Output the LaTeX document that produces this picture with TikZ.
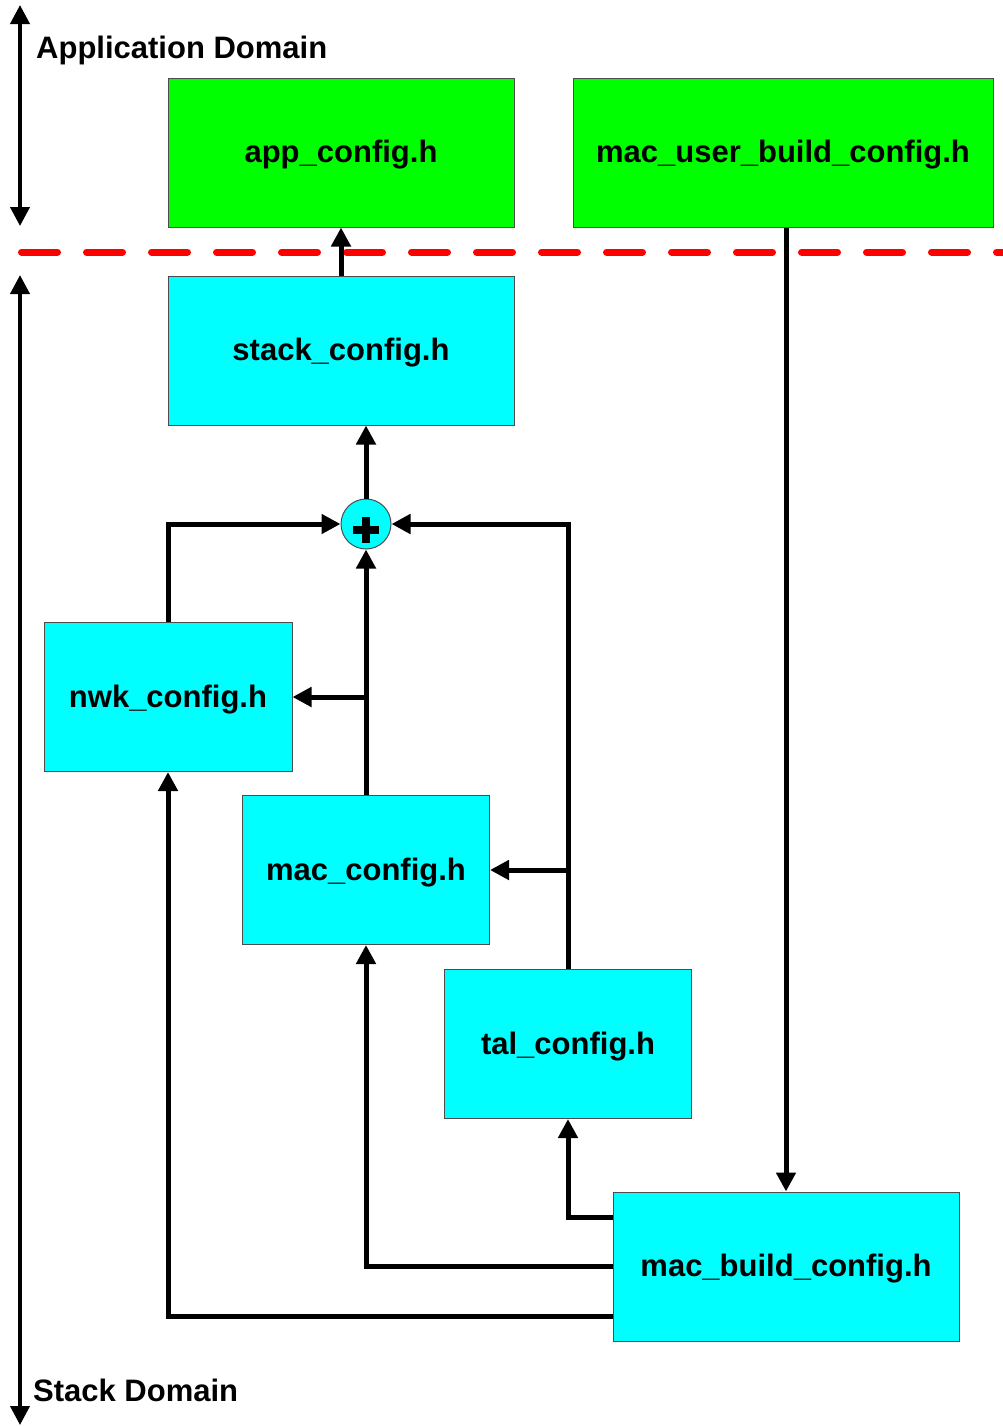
\documentclass[tikz,border=0pt]{standalone}
\usepackage{fontspec}
\setmainfont{Liberation Sans}
\usetikzlibrary{arrows.meta}
\definecolor{cfggreen}{RGB}{0,255,0}
\definecolor{cfgcyan}{RGB}{0,255,255}

\begin{document}
\begin{tikzpicture}[x=1pt, y=-1pt, node distance=198pt,
  cfg/.style={rectangle, draw=black!70, line width=1pt, minimum height=149pt, inner sep=0pt, text height=22pt, text depth=2pt, font=\fontsize{31}{36}\selectfont\bfseries},
  appcfg/.style={cfg, fill=cfggreen},
  stackcfg/.style={cfg, fill=cfgcyan},
  sumnode/.style={circle, draw=black!70, line width=1pt, fill=cfgcyan, minimum size=50pt, inner sep=0pt},
  flow/.style={line width=5pt, -{Triangle[length=19pt, width=19pt]}},
  spanarrow/.style={line width=4pt, {Triangle[length=19pt, width=19pt]}-{Triangle[length=19pt, width=19pt]}},
  domlabel/.style={anchor=base west, inner sep=0pt, font=\fontsize{31}{36}\selectfont\bfseries}]

  \useasboundingbox (0,0) rectangle (1002,1427);

  % application side
  \node[appcfg, minimum width=346pt] (app) at (341,152.5) {app\_config.h};
  \node[appcfg, minimum width=420pt, right of=app, node distance=442pt] (macuser) {mac\_user\_build\_config.h};

  % stack side
  \node[stackcfg, minimum width=346pt, below of=app] (stack) {stack\_config.h};
  \node[sumnode] (sum) at (366,524) {};
  \node[stackcfg, minimum width=248pt] (nwk) at (168,697) {nwk\_config.h};
  \node[stackcfg, minimum width=247pt] (mac) at (366,870) {mac\_config.h};
  \node[stackcfg, minimum width=247pt] (tal) at (568,1044) {tal\_config.h};
  \node[stackcfg, minimum width=346pt] (macbuild) at (786,1266.5) {mac\_build\_config.h};

  % domains
  \coordinate (apptop) at (20,5);
  \coordinate (appbot) at (20,226);
  \coordinate (stacktop) at (20,275);
  \coordinate (stackbot) at (20,1425);
  \coordinate (divl) at (21.5,252);
  \coordinate (divr) at (1010,252);
  \draw[spanarrow] (apptop) -- (appbot);
  \draw[spanarrow] (stacktop) -- (stackbot);
  \node[domlabel] (appdom) at (36,58) {Application Domain};
  \node[domlabel] (stackdom) at (33,1401) {Stack Domain};
  \draw[red, line width=7pt, line cap=round, dash pattern=on 36pt off 29pt] (divl) -- (divr);

  % plus sign
  \draw[line width=8pt] ([xshift=-13pt, yshift=-5.5pt]sum.center) -- ([xshift=13pt, yshift=-5.5pt]sum.center);
  \draw[line width=8pt] ([yshift=7.5pt]sum.center) -- ([yshift=-18.5pt]sum.center);

  % connectors
  \draw[flow] (stack) -- (app);
  \draw[flow] (sum.north) -- (sum.north |- stack.south);
  \draw[flow] (nwk.north) |- (sum.west);
  \draw[flow] (tal.north) |- (sum.east);
  \draw[flow] (mac.north) -- (sum.south);
  \draw[flow] (mac.north |- nwk.east) -- (nwk.east);
  \draw[flow] (tal.north |- mac.east) -- (mac.east);
  \draw[flow] (macbuild.north |- macuser.south) -- (macbuild.north);
  \draw[flow] ([yshift=49.5pt]macbuild.west) -| (tal.south);
  \draw[flow] (macbuild.west) -| (mac.south);
  \draw[flow] ([yshift=-49.5pt]macbuild.west) -| (nwk.south);
\end{tikzpicture}
\end{document}
